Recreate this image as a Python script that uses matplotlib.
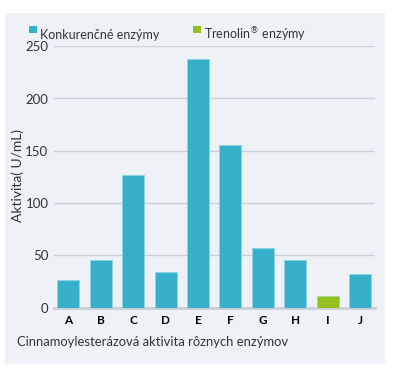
import matplotlib
matplotlib.use("Agg")
import matplotlib.pyplot as plt
from matplotlib.patches import Rectangle

categories = ["A", "B", "C", "D", "E", "F", "G", "H", "I", "J"]
values = [26.5, 46, 126.5, 34, 237.5, 156, 57.5, 45.5, 11, 32]
is_trenolin = [False, False, False, False, False, False, False, False, True, False]
yticks = [0, 50, 100, 150, 200, 250]

teal = "#35b0c8"
green = "#93c01f"
bg = "#eef2f6"
grid = "#c8cfdb"
txt = "#333333"

W, H = 394, 374
fig = plt.figure(figsize=(W / 100, H / 100), dpi=100)
fig.patch.set_facecolor("white")
fig.add_artist(Rectangle((5 / W, 1 - 364 / H), 380 / W, 351 / H, transform=fig.transFigure,
                         facecolor=bg, edgecolor="none", zorder=-10))

left, right, top, bottom = 54, 375, 46.2, 307.7
ax = fig.add_axes([left / W, 1 - bottom / H, (right - left) / W, (bottom - top) / H])
ax.set_facecolor("none")

font = "Lato"
colors = [green if t else teal for t in is_trenolin]
x = list(range(len(categories)))
ax.bar(x, values, width=0.68, color=colors, edgecolor=["#a9d8a0" if t else "#8fd3e3" for t in is_trenolin],
       linewidth=0.6, zorder=3)
ax.set_xlim(-0.44, 9.46)
ax.set_ylim(0, 250)
ax.set_yticks(yticks)
ax.set_yticklabels([str(v) for v in yticks], fontsize=9.5, color=txt, family=font)
ax.set_xticks(x)
ax.set_xticklabels(categories, fontsize=8.5, fontweight="bold", color="black", family=font)
ax.tick_params(axis="y", length=0, pad=4)
ax.tick_params(axis="x", length=0, pad=5)
for s in ["top", "right", "left"]:
    ax.spines[s].set_visible(False)
ax.spines["bottom"].set_color(grid)
ax.spines["bottom"].set_linewidth(2)
ax.grid(axis="y", color=grid, linewidth=1)
ax.set_axisbelow(True)

fig.text(18 / W, 1 - 175 / H, "Aktivita( U/mL)", fontsize=10, color=txt, family=font,
         rotation=90, va="center", ha="center")
fig.text(17 / W, 1 - 342 / H, "Cinnamoylesterázová aktivita rôznych enzýmov", fontsize=9.4,
         color=txt, family=font, va="center", ha="left")

# legend
fig.add_artist(Rectangle((29 / W, 1 - 33 / H), 8 / W, 7 / H, transform=fig.transFigure,
                         facecolor=teal, edgecolor="none"))
fig.text(40 / W, 1 - 35 / H, "Konkurenčné enzýmy", fontsize=9, color=txt, family=font,
         va="center", ha="left")
fig.add_artist(Rectangle((193 / W, 1 - 33 / H), 8 / W, 7 / H, transform=fig.transFigure,
                         facecolor=green, edgecolor="none"))
fig.text(204 / W, 1 - 35 / H, r"Trenolin$^{\circledR}$ enzýmy", fontsize=9, color=txt, family=font,
         va="center", ha="left")

fig.savefig("out.png", dpi=100, facecolor="white")
